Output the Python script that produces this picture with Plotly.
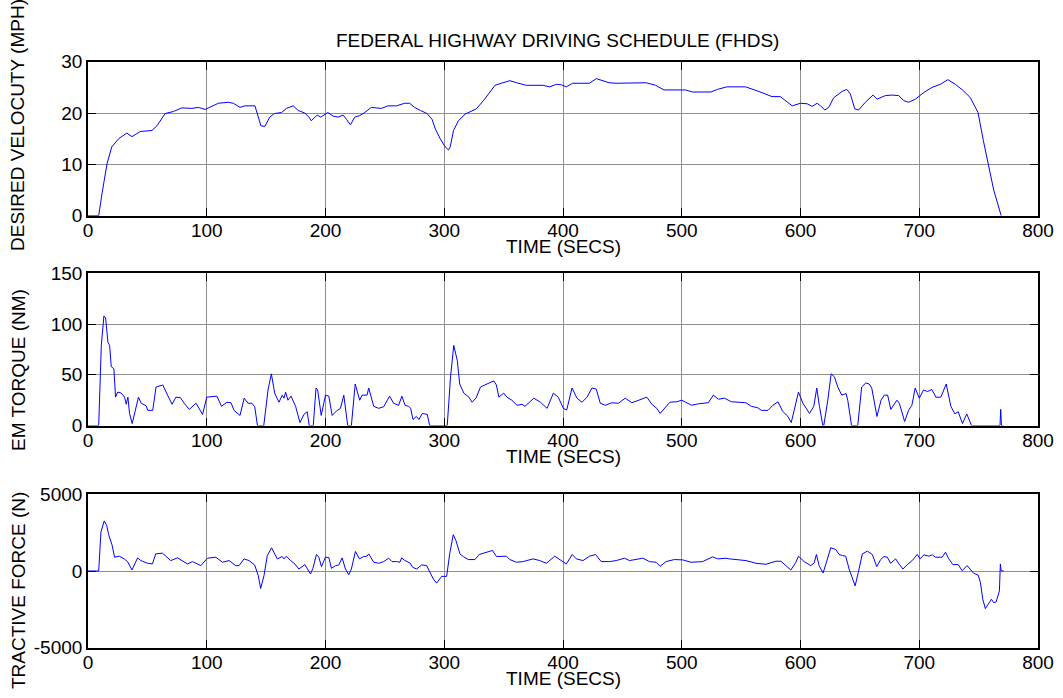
import plotly.graph_objects as go

# ---------------- data ----------------
vel_t = [0, 9, 11.8, 16, 20, 25.8, 32.7, 37, 44, 53.8, 58, 65, 72, 79, 87.4, 93, 98.6, 102.8, 109.8, 118,
         122.4, 128, 132, 140.6, 143, 145.6, 149, 153, 157, 163, 167, 172.8, 177, 182.6, 186, 188, 193, 196,
         202, 206.4, 210.6, 214.8, 217.6, 221, 224.6, 228.8, 233, 238.6, 247, 252.6, 259.7, 266.7, 270.9,
         275, 280, 285.5, 289.7, 292.5, 296.6, 300.8, 303.6, 305, 307.8, 312, 317.6, 327, 334, 342.7, 348,
         355.3, 361, 369, 383, 388.8, 394.4, 398.6, 402.8, 408, 415, 422.3, 428, 432, 439, 444.7, 470, 478,
         485, 503, 509, 524.6, 530, 538, 553.7, 565, 576, 583, 588.8, 593, 600, 605.6, 609.8, 614, 616.8,
         620.5, 623.8, 628, 635, 639, 642, 645.7, 649, 654.6, 661, 664.5, 671.5, 677, 682.7, 687, 691, 696.8,
         703.8, 710.8, 717.8, 724, 730.4, 737.4, 743, 749.5, 754, 758.3, 762.7, 769]
vel_v = [0, 0, 4.3, 10.1, 13.4, 15.0, 16.1, 15.4, 16.4, 16.6, 17.5, 19.9, 20.3, 21.0, 20.9, 21.1, 20.7, 21.2,
         21.9, 22.1, 21.9, 21.1, 21.4, 21.4, 19.5, 17.5, 17.4, 19.2, 19.9, 20.1, 20.9, 21.4, 20.5, 20.0, 19.2,
         18.5, 19.6, 19.2, 20.1, 19.4, 19.2, 19.6, 18.8, 17.7, 19.2, 19.5, 20.1, 21.1, 20.9, 21.4, 21.4, 21.9,
         21.9, 21.1, 20.5, 19.9, 18.8, 16.9, 15.0, 13.4, 12.8, 13.4, 16.6, 18.5, 19.8, 20.8, 22.7, 25.4, 25.8,
         26.3, 25.9, 25.4, 25.4, 25.1, 25.6, 25.5, 25.1, 25.8, 25.8, 25.8, 26.7, 26.4, 25.9, 25.8, 25.9, 25.4,
         24.5, 24.5, 24.1, 24.1, 24.6, 25.1, 25.1, 24.2, 23.2, 23.2, 22.2, 21.4, 21.9, 21.8, 21.3, 21.9, 21.4,
         20.6, 21.1, 23.0, 24.2, 24.6, 23.7, 20.8, 20.6, 22.1, 23.5, 22.7, 23.4, 23.5, 23.4, 22.4, 22.1, 22.7,
         24.0, 25.0, 25.6, 26.5, 25.6, 24.3, 23.0, 20.1, 14.6, 10.1, 5.0, 0]

torque_t = [0, 9, 11.2, 13.4, 14.8, 16.8, 18.2, 19.6, 21.8, 23.2, 25, 28, 30.8, 32.2, 33.6, 35, 37.2, 39.2,
            42.5, 44.8, 49, 50.3, 54.5, 57.3, 63, 67, 70.8, 74, 77.8, 81, 85.3, 91, 93.2, 96.5, 100, 105,
            108.6, 112.4, 117, 120.4, 123, 128, 131.5, 134.8, 138, 140.4, 142.7, 148, 151.6, 154.4, 157.2,
            160.8, 163.6, 165, 166.4, 168.4, 171, 174.8, 178.5, 181.8, 184.6, 186.3, 189.7, 192, 193.4,
            196.4, 200, 202.8, 205.6, 209.8, 212.6, 215.4, 218.7, 221.8, 225, 228.8, 230.8, 235, 236.4,
            240.6, 244.8, 249, 254, 257.3, 261.6, 264.3, 267, 270, 271.7, 273.7, 276.5, 278.7, 281.5, 285.7,
            287.7, 302.5, 305.3, 308, 311, 313, 316.5, 320.7, 323.5, 326.9, 330.5, 336, 341.7, 343.9, 346,
            350, 352.8, 357, 361.3, 365.5, 368, 375.4, 381, 386.6, 391.9, 396, 400.3, 403.1, 407.6, 411.8,
            416, 420.2, 424.4, 428, 431.4, 435.6, 441, 446.7, 452.4, 458, 463.6, 470.6, 474.8, 479, 481.8,
            484.6, 490, 495.8, 500, 508.4, 514, 522.4, 526.6, 530.8, 536, 541.7, 554, 558.5, 564, 567, 572.6,
            576.8, 581, 585, 589.4, 592.2, 594.5, 598.3, 602, 607.6, 611.2, 613.7, 616, 618.8, 619.6, 623,
            625.8, 628.6, 631.4, 634.7, 638.4, 639.8, 643, 648.2, 651.5, 655, 657.8, 660, 664.4, 667.8, 670.6,
            673.4, 676, 681.2, 683.2, 687.7, 691, 693.8, 696.6, 700, 703.6, 707, 710.6, 714, 718.2, 722.7,
            726.6, 730, 732.8, 736.4, 740, 744, 768, 768.6, 769.2, 770.8]
torque_v = [0, 0, 79, 108, 106, 82, 79, 58, 56, 28, 33, 32, 28, 21, 28, 12, 2, 12, 28, 22, 19.5, 15, 15, 38,
            40, 30, 21, 28, 27.5, 22, 16, 22, 18, 11, 28, 29, 29, 19, 23, 22.5, 15, 10, 27, 22, 22, 18.6, 0, 0,
            35, 51, 32, 23, 30, 27, 33, 25, 29, 19, 3, 11, 13.7, 0, 0, 37, 35, 10, 30, 29, 10, 15, 17, 30, 0, 0,
            41, 25, 30, 30, 37, 19, 17, 18.6, 29, 22, 20, 29, 20, 19, 17, 6, 9, 6, 12, 11, 0, 0, 48, 79, 64,
            41, 32, 28, 23, 27.4, 38, 41, 44, 40, 28, 32, 28, 25, 20, 21, 19, 27, 23, 17, 32, 28, 17, 15.3, 37,
            27, 23, 28, 37, 36, 22, 20, 22.5, 22, 27, 22.5, 25, 28, 21, 17, 12, 16, 23, 23.5, 25, 20, 21.5,
            22.5, 30, 26, 27, 23.5, 22.5, 19, 17.6, 15, 15, 20, 23.5, 14, 9, 3, 15.3, 33, 22, 12, 19, 37,
            18.6, 0, 0, 25, 51, 48, 38, 30, 31.6, 25, 0, 0, 38, 42, 41, 37, 9, 25, 30, 30, 16, 25, 22, 4, 15,
            20, 37, 27, 35, 33.6, 35.5, 28, 28, 41, 19, 11.5, 13.7, 2, 11.5, 0, 0, 16, 0, 0]

force_t = [0, 9, 10.9, 13.7, 15.7, 17.4, 20.2, 22.4, 26.3, 30.5, 33.3, 37, 39.8, 41.7, 44.5, 50.1, 54.3, 57,
           62.7, 69.7, 75.3, 79.5, 83.8, 88, 95, 100.6, 107.6, 113.2, 118.8, 124.4, 127.2, 131.4, 135.6,
           140.3, 143.4, 145.4, 148.2, 151, 154.6, 159.4, 163.6, 165, 167, 170.6, 174.2, 177.6, 182.6,
           187.4, 189.4, 192.4, 194.4, 196.6, 200, 202.8, 205, 208.4, 211.2, 214, 216.8, 219.6, 221.8,
           225.2, 228.6, 232.2, 235, 236.4, 240.6, 244.8, 249, 253.2, 256, 259.9, 262.7, 264.1, 266.9,
           271.1, 273.4, 276.8, 281, 285.2, 288, 290.8, 293.6, 297.8, 302, 304.8, 307.6, 309.8, 313.2, 316,
           320.2, 325.8, 329.4, 335.6, 340.6, 344, 349.6, 352.4, 355.2, 360.8, 366.4, 374.8, 380.4, 386,
           393, 397.2, 402.8, 407.8, 411.2, 416.8, 422.4, 427.4, 432.2, 439.2, 444.8, 451.8, 456, 467.2,
           472.8, 478.4, 481.8, 486.8, 493.8, 500.8, 507.8, 517.6, 526, 530.3, 537.3, 540.1, 554.1, 562.5,
           570.9, 579.3, 583.5, 587.7, 591.9, 596.1, 598.3, 603.1, 608.7, 611.5, 613.4, 615.7, 619, 622.7,
           625.5, 629.7, 632.5, 635.3, 638.1, 640.9, 643.7, 646, 648.7, 652.1, 656.3, 660.5, 664.2, 667.5,
           670.3, 673.1, 675.9, 680.1, 682.9, 686.3, 689.9, 694.1, 698.3, 700.6, 704, 708.1, 711, 713.7,
           719.3, 722.1, 724.9, 728.3, 732.8, 736.1, 740.3, 743.1, 745.9, 749.6, 751.5, 753.5, 755.7, 758,
           760.8, 762.7, 764.7, 767.5, 768.3, 768.9, 771.1]
force_v = [0, 0, 2544, 3268, 2982, 2368, 1710, 900, 965, 790, 614, 66, 526, 855, 680, 504, 460, 1118, 1162,
           680, 855, 680, 460, 614, 350, 833, 900, 570, 680, 350, 350, 790, 680, 395, -307, -1140, -307,
           1009, 1513, 790, 943, 790, 965, 680, 460, 131, 417, -197, 175, 1075, 900, 285, 900, 877, 175, 350,
           395, 855, 131, -241, 131, 1272, 790, 943, 965, 1118, 570, 504, 614, 833, 614, 614, 570, 855, 680,
           526, 241, 131, 395, 350, -88, -526, -790, -351, -351, 1228, 2368, 1996, 1118, 943, 746, 746,
           1075, 1228, 1338, 943, 965, 965, 746, 570, 614, 790, 680, 504, 965, 746, 460, 1075, 790, 680,
           965, 1075, 614, 614, 680, 833, 680, 833, 614, 570, 307, 614, 746, 724, 570, 614, 921, 790, 833,
           790, 680, 504, 439, 636, 636, 350, 66, 570, 965, 614, 350, 526, 1075, 350, -132, 790, 1513, 1403,
           1075, 1009, 965, 131, -526, -965, -88, 1118, 1294, 1075, 285, 746, 943, 900, 504, 790, 460, 131,
           417, 680, 1075, 790, 1053, 965, 1053, 900, 900, 1228, 790, 417, 417, 22, 350, 131, -154, -263,
           -746, -1842, -2456, -2171, -1842, -2061, -2018, -1294, 460, 22, 0]

x_ticks = [0, 100, 200, 300, 400, 500, 600, 700, 800]
title_text = "FEDERAL HIGHWAY DRIVING SCHEDULE (FHDS)"
x_label = "TIME (SECS)"
y_labels = ["DESIRED VELOCUTY (MPH)", "EM TORQUE (NM)", "TRACTIVE FORCE (N)"]

# ---------------- layout geometry (pixels) ----------------
W, H = 1063, 698
PX_L, PX_R = 88, 1038
panels = [(61.7, 215.7), (273.3, 425.6), (494.3, 647.7)]  # (top, bottom) in px


def py(v):
    return 1 - v / H


def px(v):
    return v / W


FONT = "Liberation Sans, Arial, sans-serif"
LINE = "#0000ff"

fig = go.Figure()
series = [(vel_t, vel_v), (torque_t, torque_v), (force_t, force_v)]
for i, (t, v) in enumerate(series):
    sfx = "" if i == 0 else str(i + 1)
    fig.add_trace(go.Scatter(x=t, y=v, mode="lines", line=dict(color=LINE, width=1),
                             xaxis="x" + sfx, yaxis="y" + sfx, showlegend=False, hoverinfo="skip"))

axis_common = dict(showline=True, linecolor="black", linewidth=1.6, mirror="allticks",
                   ticks="inside", ticklen=8, tickwidth=1, tickcolor="black", automargin=False,
                   showgrid=True, gridcolor="#8f8f8f", gridwidth=1, zeroline=False,
                   layer="below traces", tickfont=dict(family=FONT, size=19, color="black"))

y_ranges = [([0, 30], [0, 10, 20, 30]), ([0, 150], [0, 50, 100, 150]), ([-5000, 5000], [-5000, 0, 5000])]

layout = dict(template="none", width=W, height=H, autosize=False,
              margin=dict(l=0, r=0, t=0, b=0, pad=0, autoexpand=False),
              paper_bgcolor="white", plot_bgcolor="white", showlegend=False)
annotations = []
for i, ((top, bot), (yr, yt)) in enumerate(zip(panels, y_ranges)):
    sfx = "" if i == 0 else str(i + 1)
    layout["xaxis" + sfx] = dict(axis_common, domain=[px(PX_L), px(PX_R)], range=[0, 800],
                                 tickvals=x_ticks, ticktext=[str(v) for v in x_ticks],
                                 ticklabelstandoff=-3, anchor="y" + sfx)
    layout["yaxis" + sfx] = dict(axis_common, domain=[py(bot), py(top)], range=yr,
                                 tickvals=yt, ticktext=[str(v) for v in yt], anchor="x" + sfx)
    annotations.append(dict(text=x_label, xref="paper", yref="paper", x=px((PX_L + PX_R) / 2),
                            y=py(bot + 30.5), xanchor="center", yanchor="middle", showarrow=False,
                            font=dict(family=FONT, size=19, color="black")))

ylab_centers = [125, 370, 591]
for lab, yc in zip(y_labels, ylab_centers):
    annotations.append(dict(text=lab, xref="paper", yref="paper", x=px(18), y=py(yc),
                            xanchor="center", yanchor="middle", textangle=-90, showarrow=False,
                            font=dict(family=FONT, size=19, color="black")))

annotations.append(dict(text=title_text, xref="paper", yref="paper", x=px(557), y=py(41),
                        xanchor="center", yanchor="middle", showarrow=False,
                        font=dict(family=FONT, size=19, color="black")))
layout["annotations"] = annotations
fig.update_layout(**layout)

fig.write_html("out.html",
               post_script="document.documentElement.style.margin='0';"
                           "document.documentElement.style.overflow='hidden';"
                           "document.body.style.margin='0';document.body.style.padding='0';"
                           "document.body.style.overflow='hidden';")
